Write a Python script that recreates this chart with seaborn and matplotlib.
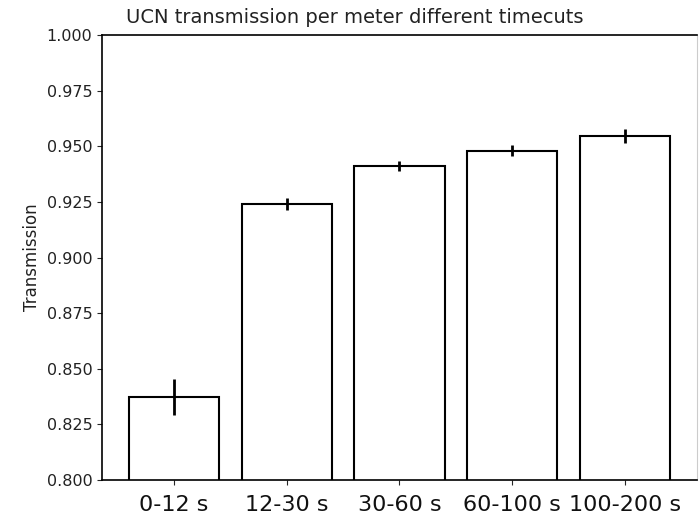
import numpy as np
import pandas as pd
import matplotlib
matplotlib.use("Agg")
import matplotlib.pyplot as plt
import seaborn as sns

# timecut bins and measured transmission per meter
timecuts = ["0-12 s", "12-30 s", "30-60 s", "60-100 s", "100-200 s"]
transmission = [0.8373, 0.9240, 0.9410, 0.9480, 0.9547]
errors = [0.0079, 0.0027, 0.0022, 0.0025, 0.0032]

sns.set_style("ticks")
plt.rcParams['font.family'] = ['DejaVu Sans']

df = pd.DataFrame({"timecut": timecuts, "transmission": transmission})

fig = plt.figure(figsize=(6.99, 5.17), dpi=100)
ax = fig.add_axes([0.146, 0.0716, 0.851, 0.8606])

sns.barplot(data=df, x="timecut", y="transmission", color="white",
            edgecolor="black", linewidth=1.5, width=0.8, errorbar=None, ax=ax)
for p in ax.patches:
    p.set_facecolor("white")

ax.errorbar(np.arange(len(timecuts)), transmission, yerr=errors,
            fmt="none", ecolor="black", elinewidth=2, capsize=0)

ax.set_ylim(0.8, 1.0)
ax.set_xlim(-0.64, 4.64)
yt = np.arange(0.8, 1.0001, 0.025)
ax.set_yticks(yt)
ax.set_yticklabels([f"{v:.3f}" for v in yt], fontsize=11.5, color="#222222")
ax.tick_params(axis="x", labelsize=16, pad=7, labelcolor="#111111")
ax.set_xlabel("")
ax.set_ylabel("Transmission", fontsize=12, color="#222222")
ax.set_title("UCN transmission per meter different timecuts", fontsize=14,
             x=0.425, pad=9, color="#222222")

for side in ["top", "left", "bottom"]:
    ax.spines[side].set_visible(True)
    ax.spines[side].set_color("black")
    ax.spines[side].set_linewidth(1.2)
ax.spines["right"].set_visible(True)
ax.spines["right"].set_color("#cccccc")

fig.savefig("out.png", dpi=100, facecolor="white")
